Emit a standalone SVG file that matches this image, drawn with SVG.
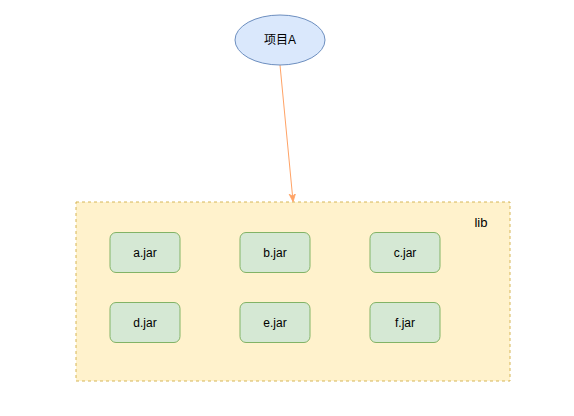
<svg xmlns="http://www.w3.org/2000/svg" width="574" height="416" viewBox="0 0 574 416">
<style>
.t{font-family:"Liberation Sans","Noto Sans CJK SC",Arial,sans-serif;font-size:12px;fill:#000;text-anchor:middle;dominant-baseline:central}
.jar{fill:#d5e8d4;stroke:#82b366;stroke-width:1}
</style>
<defs>
<marker id="ah" viewBox="0 0 10 10" refX="9" refY="5" markerWidth="8" markerHeight="8" orient="auto" markerUnits="userSpaceOnUse">
<path d="M0,1 L10,5 L0,9 L3,5 Z" fill="#ffa366" stroke="#ffa366"/>
</marker>
</defs>
<rect width="574" height="416" fill="#fff"/>
<g id="lib">
<rect x="76" y="202" width="434" height="179" fill="#fff2cc" stroke="#d6b656" stroke-dasharray="3 3"/>
<text class="t" x="481" y="222" style="font-size:13px">lib</text>
</g>
<g id="connectors">
<path d="M280,65 L293,201" fill="none" stroke="#ffa366" stroke-width="1" marker-end="url(#ah)"/>
</g>
<g id="projectA">
<ellipse cx="280" cy="40" rx="45" ry="25" fill="#dae8fc" stroke="#6c8ebf"/>
<text class="t" x="280" y="40">项目A</text>
</g>
<g id="a"><rect class="jar" x="110" y="232.5" width="70" height="40" rx="6"/><text class="t" x="145" y="252.5">a.jar</text></g>
<g id="b"><rect class="jar" x="240" y="232.5" width="70" height="40" rx="6"/><text class="t" x="275" y="252.5">b.jar</text></g>
<g id="c"><rect class="jar" x="370" y="232.5" width="70" height="40" rx="6"/><text class="t" x="405" y="252.5">c.jar</text></g>
<g id="d"><rect class="jar" x="110" y="302.5" width="70" height="40" rx="6"/><text class="t" x="145" y="322.5">d.jar</text></g>
<g id="e"><rect class="jar" x="240" y="302.5" width="70" height="40" rx="6"/><text class="t" x="275" y="322.5">e.jar</text></g>
<g id="f"><rect class="jar" x="370" y="302.5" width="70" height="40" rx="6"/><text class="t" x="405" y="322.5">f.jar</text></g>
</svg>
